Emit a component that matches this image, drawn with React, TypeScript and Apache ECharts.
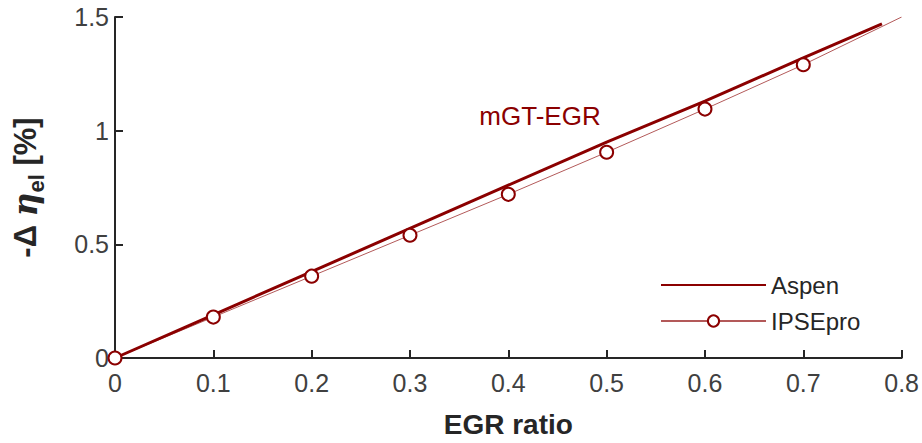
import React, { useEffect, useRef } from "react";
import * as echarts from "echarts";

// EGR ratio vs. electrical efficiency penalty
const aspenX = [0, 0.1, 0.2, 0.3, 0.4, 0.5, 0.6, 0.7, 0.78];
const aspenY = [0, 0.19, 0.38, 0.57, 0.76, 0.95, 1.13, 1.32, 1.47];

const ipseX = [0, 0.1, 0.2, 0.3, 0.4, 0.5, 0.6, 0.7, 0.8];
const ipseY = [0, 0.18, 0.36, 0.54, 0.72, 0.905, 1.095, 1.29, 1.5];
// the last IPSEpro point carries the line only, no marker
const ipseMarkerCount = 8;

const xTicks = [0, 0.1, 0.2, 0.3, 0.4, 0.5, 0.6, 0.7, 0.8];
const yTicks = [0, 0.5, 1, 1.5];

const RED = "#8B0000";
const FONT = "'Liberation Sans', Arial, Helvetica, sans-serif";

export default function App() {
  const ref = useRef<HTMLDivElement>(null);

  useEffect(() => {
    document.body.style.margin = "0";
    if (!ref.current) return;
    const chart = echarts.init(ref.current, undefined, { renderer: "svg" });

    const axisLine = { show: true, lineStyle: { color: "#262626", width: 2 } };
    const axisTick = { show: true, inside: true, length: 8, lineStyle: { color: "#262626", width: 2 } };

    chart.setOption({
      animation: false,
      backgroundColor: "#ffffff",
      textStyle: { fontFamily: FONT },
      grid: { left: 115, right: 20, top: 17, bottom: 83, containLabel: false },
      xAxis: {
        type: "value",
        min: xTicks[0],
        max: xTicks[xTicks.length - 1],
        interval: 0.1,
        axisLine,
        axisTick,
        splitLine: { show: false },
        axisLabel: {
          color: "#404040",
          fontSize: 25,
          fontFamily: FONT,
          margin: 12,
          formatter: (v: number) => String(Math.round(v * 10) / 10),
        },
        name: "EGR ratio",
        nameLocation: "middle",
        nameGap: 52,
        nameTextStyle: { color: "#262626", fontSize: 28, fontWeight: "bold", fontFamily: FONT },
      },
      yAxis: {
        type: "value",
        min: yTicks[0],
        max: yTicks[yTicks.length - 1],
        interval: 0.5,
        axisLine,
        axisTick,
        splitLine: { show: false },
        axisLabel: {
          color: "#404040",
          fontSize: 25,
          fontFamily: FONT,
          margin: 6,
        },
        name: "{b|-Δ }{e|η}{s|el}{b| [%]}",
        nameLocation: "middle",
        nameGap: 68,
        nameRotate: 90,
        nameTextStyle: {
          color: "#262626",
          fontFamily: FONT,
          rich: {
            b: { fontSize: 31, fontWeight: "bold", fontFamily: FONT, color: "#262626", lineHeight: 44, verticalAlign: "middle" },
            e: { fontSize: 33, fontWeight: "bold", fontStyle: "italic", fontFamily: "'DejaVu Serif', serif", color: "#262626", lineHeight: 44, verticalAlign: "middle" },
            s: { fontSize: 22, fontWeight: "bold", fontFamily: FONT, color: "#262626", lineHeight: 22, verticalAlign: "bottom" },
          },
        },
      },
      legend: {
        orient: "vertical",
        left: 655,
        top: 268,
        itemWidth: 105,
        itemHeight: 14,
        itemGap: 12,
        textStyle: { color: "#262626", fontSize: 24, fontFamily: FONT, padding: [0, 0, 0, 0] },
        data: [
          { name: "Aspen", itemStyle: { opacity: 0 } },
          { name: "IPSEpro" },
        ],
      },
      graphic: [
        {
          type: "text",
          x: 540,
          y: 116,
          style: {
            text: "mGT-EGR",
            fill: RED,
            fontSize: 26,
            fontFamily: FONT,
            align: "center",
            verticalAlign: "middle",
          },
        },
      ],
      series: [
        {
          name: "Aspen",
          type: "line",
          data: aspenX.map((x, i) => [x, aspenY[i]]),
          symbol: "none",
          lineStyle: { color: RED, width: 3 },
          itemStyle: { color: RED },
          z: 3,
        },
        {
          name: "IPSEpro",
          type: "line",
          data: ipseX.map((x, i) =>
            i < ipseMarkerCount ? [x, ipseY[i]] : { value: [x, ipseY[i]], symbol: "none" }
          ),
          symbol: "emptyCircle",
          symbolSize: 13,
          lineStyle: { color: RED, width: 1, opacity: 0.65 },
          itemStyle: { color: RED, borderColor: RED, borderWidth: 2 },
          z: 4,
        },
      ],
    });

    return () => chart.dispose();
  }, []);

  return <div ref={ref} style={{ width: 922, height: 443 }} />;
}
